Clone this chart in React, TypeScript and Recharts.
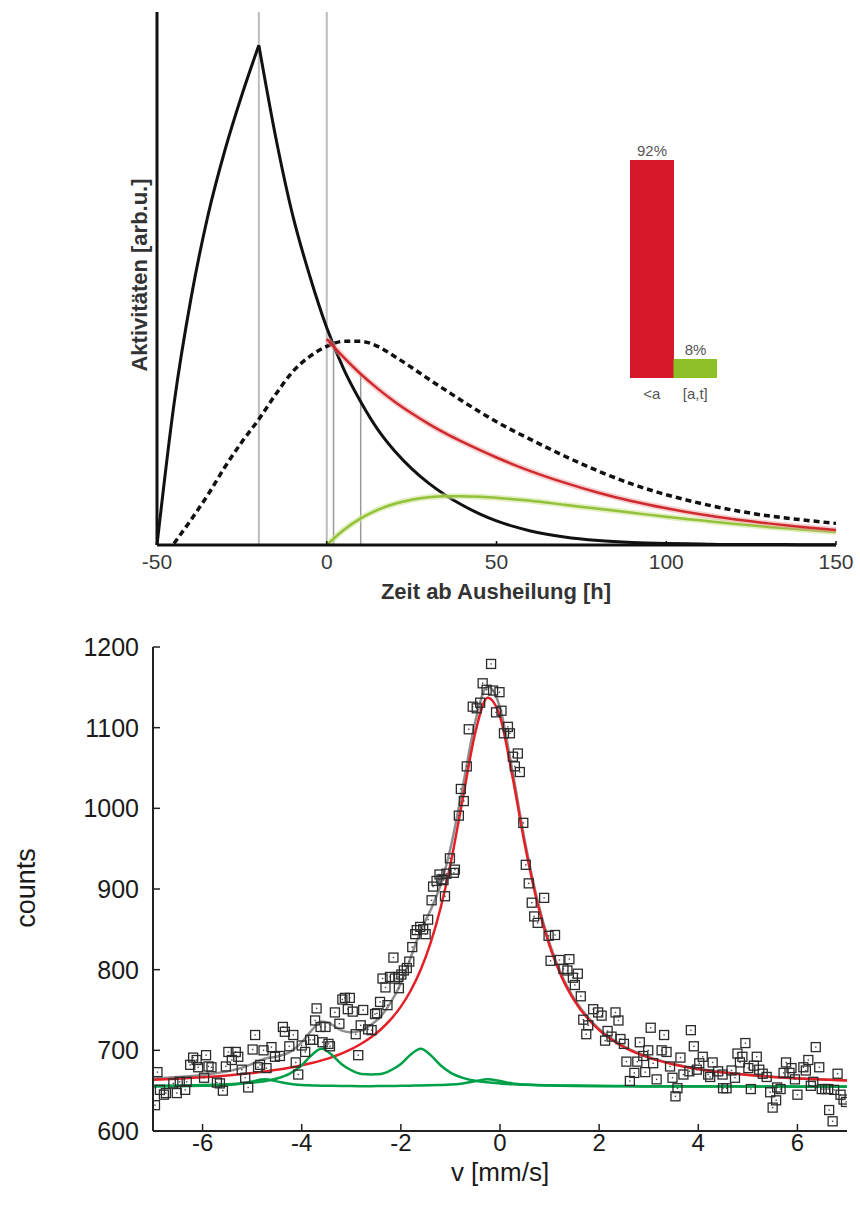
import React from "react";
import {
  Bar,
  BarChart,
  Cell,
  ComposedChart,
  LabelList,
  Line,
  ReferenceLine,
  Scatter,
  XAxis,
  YAxis,
} from "recharts";

// ---- top chart: activity curves ----
const hours = [-50, -45, -40, -35, -30, -25, -20, -15, -10, -5, 0, 5, 10, 15, 20, 25, 30, 35, 40, 45, 50, 55, 60, 70, 80, 90, 100, 110, 120, 130, 140, 150];
const blackRise = [0, 28, 49, 65.5, 78.5, 89.5, 99.4, null, null, null, null, null, null, null, null, null, null, null, null, null, null, null, null, null, null, null, null, null, null, null, null, null];
const blackDecay = [null, null, null, null, null, null, 99.4, 81, 65.5, 53.5, 43.2, 35, 28.5, 23, 18.7, 15.2, 12.3, 9.9, 7.9, 6.2, 4.8, 3.7, 2.8, 1.6, 0.9, 0.5, 0.3, 0.2, 0.1, 0.1, 0.05, 0.05];
const dashedTotal = [null, 0.3, 5, 10, 15.5, 20.5, 25, 30, 34.5, 37.5, 39.5, 40.5, 40.5, 39.5, 37.5, 35.3, 33, 30.8, 28.6, 26.5, 24.5, 22.7, 21, 17.7, 14.7, 12.1, 10, 8.3, 6.9, 5.8, 5, 4.3];
const redPart = [null, null, null, null, null, null, null, null, null, null, 41, 37.3, 34, 31.1, 28.5, 26.2, 24.1, 22.2, 20.5, 18.9, 17.4, 16, 14.7, 12.4, 10.4, 8.7, 7.3, 6.1, 5.1, 4.3, 3.6, 3.0];
const greenPart = [null, null, null, null, null, null, null, null, null, null, 0, 3, 5.3, 7, 8.2, 9, 9.5, 9.7, 9.7, 9.6, 9.4, 9.1, 8.8, 8, 7.2, 6.4, 5.6, 4.9, 4.2, 3.6, 3.1, 2.6];
const hourTicks = [-50, 0, 50, 100, 150];
const fullMarkers = [-20, 0];
const shortMarkers = [
  { t: 2, top: 40 },
  { t: 10, top: 34 },
];

// inset bars
const shareCats = ["<a", "[a,t]"];
const shareValues = [92, 8];
const shareColors = ["#d5192b", "#8dc026"];

// ---- bottom chart: spectrum ----
const velocity = [-7, -6.5, -6, -5.5, -5.25, -5, -4.75, -4.5, -4.25, -4, -3.8, -3.6, -3.4, -3.2, -3, -2.8, -2.6, -2.4, -2.2, -2, -1.8, -1.6, -1.4, -1.2, -1, -0.75, -0.5, -0.25, 0, 0.25, 0.5, 0.75, 1, 1.25, 1.5, 2, 2.5, 3, 3.5, 4, 4.5, 5, 5.5, 6, 6.5, 7];
const redFit = [663.5, 664.9, 666.6, 668.9, 670.3, 671.8, 673.7, 675.8, 678.3, 681.4, 684.2, 687.5, 691.3, 695.9, 701.4, 708.1, 716.1, 726.1, 738.6, 754.2, 774.2, 799.9, 833.2, 876.2, 930.4, 1012.2, 1093.5, 1137.1, 1113.6, 1039.8, 955.2, 883.6, 829.5, 790.1, 761.6, 725, 703.9, 690.9, 682.4, 676.6, 672.4, 669.3, 667, 665.1, 663.7, 662.6];
const greenDoublet = [656.1, 656.4, 656.9, 658, 658.8, 660, 661.8, 665, 670.7, 681.5, 694.1, 701.9, 694.9, 683.1, 675.3, 670.7, 670.1, 670.7, 675.3, 683.1, 694.9, 701.9, 694.1, 681.5, 672.4, 665.9, 662.3, 660.3, 659, 658, 657.4, 657, 656.7, 656.5, 656.3, 656, 655.8, 655.6, 655.5, 655.4, 655.35, 655.3, 655.25, 655.2, 655.2, 655.2];
const greenSinglets = [655.3, 655.5, 656, 657, 658.5, 661.5, 664, 661.5, 658.5, 657, 656.5, 656.2, 656, 655.8, 655.7, 655.6, 655.6, 655.7, 655.8, 656, 656.2, 656.4, 656.7, 657, 657.5, 659, 661.5, 664, 662, 659, 657.5, 656.8, 656.3, 656, 655.8, 655.5, 655.4, 655.3, 655.2, 655.2, 655.1, 655.1, 655.1, 655, 655, 655];
const grayFit = [664.9, 666.8, 669.5, 673.9, 677.6, 683.3, 689.5, 692.3, 697.5, 709.9, 724.8, 735.6, 732.2, 724.8, 722.4, 724.4, 731.8, 742.5, 759.7, 783.3, 815.3, 848.2, 874, 904.7, 950.3, 1027.1, 1107.3, 1151.4, 1124.6, 1046.8, 960.1, 887.4, 832.5, 792.6, 763.7, 726.5, 705.1, 691.8, 683.1, 677.2, 672.9, 669.7, 667.4, 665.3, 663.9, 662.8];

const measuredV = [-6.96, -6.91, -6.86, -6.78, -6.74, -6.59, -6.52, -6.46, -6.35, -6.32, -6.25, -6.19, -6.12, -6.09, -5.97, -5.93, -5.88, -5.82, -5.71, -5.65, -5.59, -5.53, -5.48, -5.41, -5.33, -5.28, -5.21, -5.14, -5.08, -4.99, -4.94, -4.88, -4.84, -4.77, -4.71, -4.61, -4.54, -4.44, -4.38, -4.34, -4.25, -4.17, -4.12, -4.07, -4.0, -3.93, -3.83, -3.77, -3.73, -3.7, -3.62, -3.58, -3.52, -3.46, -3.43, -3.33, -3.24, -3.18, -3.13, -3.07, -3.03, -2.97, -2.91, -2.86, -2.81, -2.76, -2.66, -2.59, -2.52, -2.48, -2.42, -2.37, -2.31, -2.27, -2.22, -2.15, -2.12, -2.05, -2.04, -1.99, -1.94, -1.88, -1.83, -1.77, -1.71, -1.68, -1.61, -1.55, -1.5, -1.45, -1.38, -1.35, -1.28, -1.22, -1.18, -1.14, -1.11, -1.08, -1.01, -0.93, -0.91, -0.83, -0.79, -0.73, -0.67, -0.63, -0.55, -0.47, -0.4, -0.35, -0.27, -0.18, -0.14, -0.08, -0.01, 0.03, 0.08, 0.16, 0.2, 0.26, 0.3, 0.36, 0.4, 0.47, 0.52, 0.58, 0.64, 0.69, 0.76, 0.89, 0.98, 1.02, 1.11, 1.2, 1.28, 1.36, 1.4, 1.47, 1.51, 1.57, 1.63, 1.68, 1.74, 1.78, 1.88, 1.98, 2.05, 2.12, 2.17, 2.25, 2.33, 2.39, 2.43, 2.5, 2.55, 2.62, 2.71, 2.77, 2.82, 2.89, 2.93, 2.99, 3.04, 3.09, 3.16, 3.26, 3.31, 3.36, 3.43, 3.48, 3.54, 3.58, 3.64, 3.7, 3.82, 3.85, 3.91, 3.97, 4.02, 4.09, 4.2, 4.24, 4.29, 4.4, 4.49, 4.5, 4.57, 4.67, 4.74, 4.79, 4.84, 4.89, 4.95, 5.01, 5.06, 5.12, 5.18, 5.23, 5.3, 5.38, 5.45, 5.5, 5.57, 5.59, 5.66, 5.72, 5.77, 5.84, 5.88, 5.95, 6.0, 6.12, 6.17, 6.22, 6.27, 6.32, 6.37, 6.44, 6.49, 6.56, 6.62, 6.64, 6.71, 6.74, 6.81, 6.87, 6.93, 6.98];
const measuredCounts = [632, 673, 651, 645, 647, 659, 647, 661, 651, 661, 682, 691, 688, 679, 666, 694, 680, 679, 660, 659, 650, 680, 698, 688, 698, 692, 676, 666, 654, 701, 719, 679, 682, 700, 678, 704, 692, 693, 729, 723, 705, 719, 685, 670, 706, 698, 713, 713, 737, 752, 729, 710, 729, 708, 705, 747, 733, 763, 765, 751, 765, 748, 720, 694, 731, 750, 726, 725, 745, 746, 760, 789, 778, 756, 791, 815, 789, 791, 777, 794, 799, 802, 810, 828, 844, 849, 853, 850, 844, 862, 886, 903, 910, 918, 912, 911, 891, 919, 938, 920, 924, 991, 1024, 1009, 1052, 1098, 1126, 1124, 1131, 1155, 1147, 1179, 1146, 1119, 1144, 1121, 1093, 1101, 1093, 1064, 1052, 1068, 1045, 982, 930, 907, 883, 866, 858, 889, 842, 811, 843, 812, 801, 799, 813, 790, 781, 795, 767, 738, 720, 731, 751, 747, 743, 712, 724, 717, 747, 737, 714, 708, 686, 662, 672, 686, 710, 693, 673, 700, 728, 684, 664, 700, 719, 698, 680, 666, 643, 653, 691, 670, 674, 725, 705, 676, 684, 692, 670, 667, 685, 674, 670, 653, 653, 675, 666, 696, 685, 692, 709, 678, 652, 681, 692, 676, 671, 667, 648, 629, 638, 654, 652, 672, 685, 672, 678, 664, 645, 679, 675, 688, 656, 661, 704, 679, 652, 652, 652, 626, 612, 651, 671, 645, 639, 636];
const velocityTicks = [-6, -4, -2, 0, 2, 4, 6];
const countTicks = [600, 700, 800, 900, 1000, 1100, 1200];

const activityRows = hours.map((t, i) => ({
  t,
  blackRise: blackRise[i],
  blackDecay: blackDecay[i],
  dashed: dashedTotal[i],
  red: redPart[i],
  green: greenPart[i],
}));
const shareRows = shareCats.map((cat, i) => ({ cat, share: shareValues[i] }));
const fitRows = velocity.map((v, i) => ({
  v,
  red: redFit[i],
  gray: grayFit[i],
  greenA: greenSinglets[i],
  greenB: greenDoublet[i],
}));
const pointRows = measuredV.map((v, i) => ({ v, counts: measuredCounts[i] }));

const NARROW = "'Liberation Sans Narrow', 'Liberation Sans', Arial, sans-serif";
const SANS = "'Liberation Sans', Arial, Helvetica, sans-serif";

function HourTick({ x, y, payload }: any) {
  return (
    <g>
      <line x1={x} y1={y} x2={x} y2={y - 4} stroke="#111" strokeWidth={1.5} />
      <text x={x} y={y + 24} textAnchor="middle" fontSize={21} fill="#3a3a3a" fontFamily={NARROW}>
        {payload.value}
      </text>
    </g>
  );
}

function VelocityTick({ x, y, payload }: any) {
  return (
    <g>
      <line x1={x} y1={y} x2={x} y2={y - 7} stroke="#222" strokeWidth={1.5} />
      <text x={x} y={y + 20} textAnchor="middle" fontSize={24} fill="#1a1a1a" fontFamily={SANS}>
        {payload.value}
      </text>
    </g>
  );
}

function VelocityTopTick({ x, y }: any) {
  return <line x1={x} y1={y} x2={x} y2={y + 7} stroke="#222" strokeWidth={1.5} />;
}

function CountTick({ x, y, payload }: any) {
  return (
    <g>
      <line x1={x} y1={y} x2={x + 7} y2={y} stroke="#222" strokeWidth={1.5} />
      <text x={x - 14} y={y + 9} textAnchor="end" fontSize={25} fill="#1a1a1a" fontFamily={SANS}>
        {payload.value}
      </text>
    </g>
  );
}

function CountRightTick({ x, y }: any) {
  return <line x1={x} y1={y} x2={x - 7} y2={y} stroke="#222" strokeWidth={1.5} />;
}

function SquareMark({ cx, cy }: any) {
  if (cx == null || cy == null) return null;
  return (
    <g>
      <rect x={cx - 4.5} y={cy - 4.5} width={9} height={9} fill="none" stroke="#2b2b2b" strokeWidth={1.3} />
      <rect x={cx - 0.7} y={cy - 0.7} width={1.4} height={1.4} fill="#444" />
    </g>
  );
}

const titleStyle = (cx: number, cy: number, rotate: boolean, extra: any) => ({
  position: "absolute" as const,
  left: cx,
  top: cy,
  transform: `translate(-50%, -50%)${rotate ? " rotate(-90deg)" : ""}`,
  whiteSpace: "nowrap" as const,
  lineHeight: 1,
  ...extra,
});

export default function App() {
  return (
    <div style={{ position: "absolute", left: 0, top: 0, width: 860, height: 1207, background: "#fff", overflow: "hidden" }}>
      {/* upper panel */}
      <div style={{ position: "absolute", left: 0, top: 0 }}>
        <ComposedChart width={860} height={610} data={activityRows} margin={{ top: 12, right: 24, bottom: 0, left: 0 }}>
          <XAxis
            dataKey="t"
            type="number"
            domain={[-50, 150]}
            ticks={hourTicks}
            interval={0}
            height={65}
            tickSize={0}
            tickMargin={0}
            tickLine={false}
            tick={<HourTick />}
            axisLine={{ stroke: "#111", strokeWidth: 3 }}
          />
          <YAxis
            type="number"
            domain={[0, 106]}
            width={157}
            tick={false}
            tickLine={false}
            axisLine={{ stroke: "#111", strokeWidth: 3 }}
          />
          {fullMarkers.map((t) => (
            <ReferenceLine key={`m${t}`} x={t} stroke="#bcbcbc" strokeWidth={2} />
          ))}
          {shortMarkers.map((m) => (
            <ReferenceLine
              key={`s${m.t}`}
              segment={[
                { x: m.t, y: 0 },
                { x: m.t, y: m.top },
              ]}
              stroke="#9a9a9a"
              strokeWidth={1.5}
            />
          ))}
          <Line dataKey="blackRise" type="monotone" stroke="#111" strokeWidth={3} dot={false} isAnimationActive={false} />
          <Line dataKey="blackDecay" type="monotone" stroke="#111" strokeWidth={3} dot={false} isAnimationActive={false} />
          <Line dataKey="dashed" type="monotone" stroke="#111" strokeWidth={3.5} strokeDasharray="6 4" dot={false} isAnimationActive={false} />
          <Line dataKey="green" type="monotone" stroke="#cfe59a" strokeWidth={6} strokeOpacity={0.6} dot={false} isAnimationActive={false} legendType="none" />
          <Line dataKey="green" type="monotone" stroke="#93c13a" strokeWidth={2.5} dot={false} isAnimationActive={false} />
          <Line dataKey="red" type="monotone" stroke="#f0a0a0" strokeWidth={6} strokeOpacity={0.5} dot={false} isAnimationActive={false} legendType="none" />
          <Line dataKey="red" type="monotone" stroke="#cf2a2e" strokeWidth={2.5} dot={false} isAnimationActive={false} />
        </ComposedChart>
      </div>
      <div style={titleStyle(140, 275, true, { fontFamily: SANS, fontWeight: 700, fontSize: 22, color: "#333" })}>
        Aktivitäten [arb.u.]
      </div>
      <div style={titleStyle(496, 592, false, { fontFamily: SANS, fontWeight: 700, fontSize: 22, color: "#333" })}>
        Zeit ab Ausheilung [h]
      </div>

      {/* inset bars */}
      <div style={{ position: "absolute", left: 630, top: 120 }}>
        <BarChart width={87} height={300} data={shareRows} margin={{ top: 40, right: 0, bottom: 0, left: 0 }} barCategoryGap={0} barGap={0}>
          <XAxis
            dataKey="cat"
            height={42}
            axisLine={false}
            tickLine={false}
            tickSize={0}
            tickMargin={10}
            interval={0}
            tick={{ fontSize: 15, fill: "#555", fontFamily: NARROW }}
          />
          <YAxis hide domain={[0, 92]} />
          <Bar dataKey="share" isAnimationActive={false}>
            {shareRows.map((row, i) => (
              <Cell key={row.cat} fill={shareColors[i]} />
            ))}
            <LabelList dataKey="share" position="top" offset={4} formatter={(v: any) => `${v}%`} style={{ fontSize: 15, fill: "#555", fontFamily: NARROW }} />
          </Bar>
        </BarChart>
      </div>

      {/* lower panel */}
      <div style={{ position: "absolute", left: 0, top: 620 }}>
        <ComposedChart width={860} height={587} margin={{ top: 27, right: 13, bottom: 0, left: 0 }}>
          <XAxis
            dataKey="v"
            type="number"
            domain={[-7, 7]}
            allowDataOverflow
            ticks={velocityTicks}
            interval={0}
            height={76}
            tickSize={0}
            tickMargin={0}
            tickLine={false}
            tick={<VelocityTick />}
            axisLine={{ stroke: "#222", strokeWidth: 2 }}
          />
          <XAxis
            xAxisId="top"
            orientation="top"
            dataKey="v"
            type="number"
            domain={[-7, 7]}
            allowDataOverflow
            ticks={velocityTicks}
            interval={0}
            height={0}
            tickSize={0}
            tickMargin={0}
            tickLine={false}
            tick={<VelocityTopTick />}
            axisLine={{ stroke: "#222", strokeWidth: 2 }}
          />
          <YAxis
            type="number"
            domain={[600, 1200]}
            allowDataOverflow
            ticks={countTicks}
            interval={0}
            width={153}
            tickSize={0}
            tickMargin={0}
            tickLine={false}
            tick={<CountTick />}
            axisLine={{ stroke: "#222", strokeWidth: 2 }}
          />
          <YAxis
            yAxisId="right"
            orientation="right"
            type="number"
            domain={[600, 1200]}
            allowDataOverflow
            ticks={countTicks}
            interval={0}
            width={0}
            tickSize={0}
            tickMargin={0}
            tickLine={false}
            tick={<CountRightTick />}
            axisLine={{ stroke: "#222", strokeWidth: 2 }}
          />
          <Scatter data={pointRows} dataKey="counts" shape={<SquareMark />} isAnimationActive={false} />
          <Line data={fitRows} dataKey="gray" type="monotone" stroke="#8e8e8e" strokeWidth={2.5} dot={false} isAnimationActive={false} />
          <Line data={fitRows} dataKey="red" type="monotone" stroke="#e41f26" strokeWidth={2.5} dot={false} isAnimationActive={false} />
          <Line data={fitRows} dataKey="greenA" type="monotone" stroke="#00a048" strokeWidth={2.5} dot={false} isAnimationActive={false} />
          <Line data={fitRows} dataKey="greenB" type="monotone" stroke="#00a048" strokeWidth={2.5} dot={false} isAnimationActive={false} />
        </ComposedChart>
      </div>
      <div style={titleStyle(26, 888, true, { fontFamily: SANS, fontSize: 27, color: "#1a1a1a" })}>counts</div>
      <div style={titleStyle(500, 1172, false, { fontFamily: SANS, fontSize: 26, color: "#1a1a1a" })}>v [mm/s]</div>
    </div>
  );
}
